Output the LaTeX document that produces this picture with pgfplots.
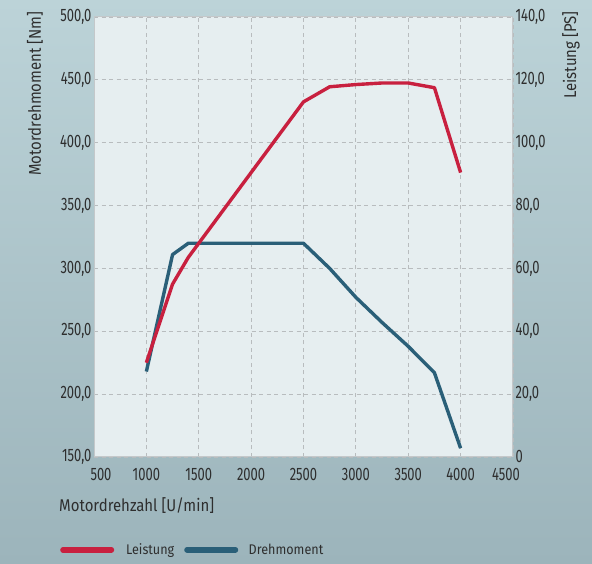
\documentclass[border=0pt]{standalone}
\usepackage{pgfplots}
\pgfplotsset{compat=1.18}
\usepackage{fontspec}
\setmainfont{Fira Sans}
\newfontfamily\tickfont{Fira Sans}[FakeStretch=0.72]
\newfontfamily\labfont{Fira Sans}[FakeStretch=0.88]
\newfontfamily\legfont{Fira Sans}[FakeStretch=0.9]
\definecolor{bgtop}{HTML}{BCD3D8}
\definecolor{bgbot}{HTML}{9CB4BB}
\definecolor{plotbg}{HTML}{E6EEF0}
\definecolor{redline}{HTML}{C8203F}
\definecolor{blueline}{HTML}{2A5F78}
\definecolor{gridc}{HTML}{B8BCBE}
\definecolor{axc}{HTML}{C4C8CA}
\definecolor{txt}{HTML}{2E2E2E}
\begin{document}
\begin{tikzpicture}[x=1pt,y=1pt]
\shade[top color=bgtop,bottom color=bgbot] (0,0) rectangle (592,564);
\useasboundingbox (0,0) rectangle (592,564);
\pgfplotsset{
  common/.style={
    at={(94pt,107pt)}, anchor=south west,
    scale only axis, width=419pt, height=440pt,
    xmin=500, xmax=4500,
    xtick={500,1000,...,4500},
    major tick length=0pt,
    tick label style={font=\tickfont\fontsize{18}{20}\selectfont, text=txt},
    axis line style={draw=axc, line width=1pt},
  }
}
\begin{axis}[common,
  axis background/.style={fill=plotbg},
  ymin=150, ymax=500,
  ytick={150,200,...,500},
  yticklabels={{150,0},{200,0},{250,0},{300,0},{350,0},{400,0},{450,0},{500,0}},
  xticklabels={{\hspace*{14pt}500},1000,1500,2000,2500,3000,3500,4000,{4500\hspace*{14pt}}},
  xticklabel style={yshift=-8pt},
  yticklabel style={xshift=1pt},
  grid=major,
  major grid style={draw=gridc, dash pattern=on 4pt off 3.5pt, line width=0.8pt},
]
\addplot[blueline, line width=3.4pt, line join=round] coordinates {
(1000,218) (1250,311) (1400,320) (2500,320) (2750,300) (3000,277) (3250,257) (3500,238) (3750,217) (4000,157)
};
\end{axis}
\begin{axis}[common,
  axis y line*=right, axis x line=none,
  ymin=0, ymax=140,
  ytick={0,20,...,140},
  yticklabels={0,{20,0},{40,0},{60,0},{80,0},{100,0},{120,0},{140,0}},
  yticklabel style={xshift=-1pt},
  legend style={at={(-0.0883,-0.211)}, anchor=west, draw=none, fill=none,
    font=\legfont\fontsize{14}{16}\selectfont, text=txt,
    /tikz/every even column/.append style={column sep=8pt}},
  legend columns=2,
  legend image code/.code={\draw[#1, line width=5.5pt, line cap=round] (0pt,0pt) -- (48.5pt,0pt); \path (59.5pt,0pt);},
]
\addplot[redline, line width=3.4pt, line join=round] coordinates {
(1000,30) (1250,55) (1400,63.5) (2500,113) (2750,117.8) (3000,118.5) (3250,119) (3500,119) (3750,117.5) (4000,90.5)
};
\addlegendentry{Leistung}
\addlegendimage{blueline}
\addlegendentry{Drehmoment}
\end{axis}
\node[rotate=90, anchor=east, text=txt, font=\labfont\fontsize{17}{19}\selectfont] at (35,556) {Motordrehmoment [Nm]};
\node[rotate=90, anchor=east, text=txt, font=\labfont\fontsize{17}{19}\selectfont] at (571,556) {Leistung [PS]};
\node[anchor=west, text=txt, font=\labfont\fontsize{17}{19}\selectfont, inner sep=0pt] at (59,58) {Motordrehzahl [U/min]};
\end{tikzpicture}
\end{document}
